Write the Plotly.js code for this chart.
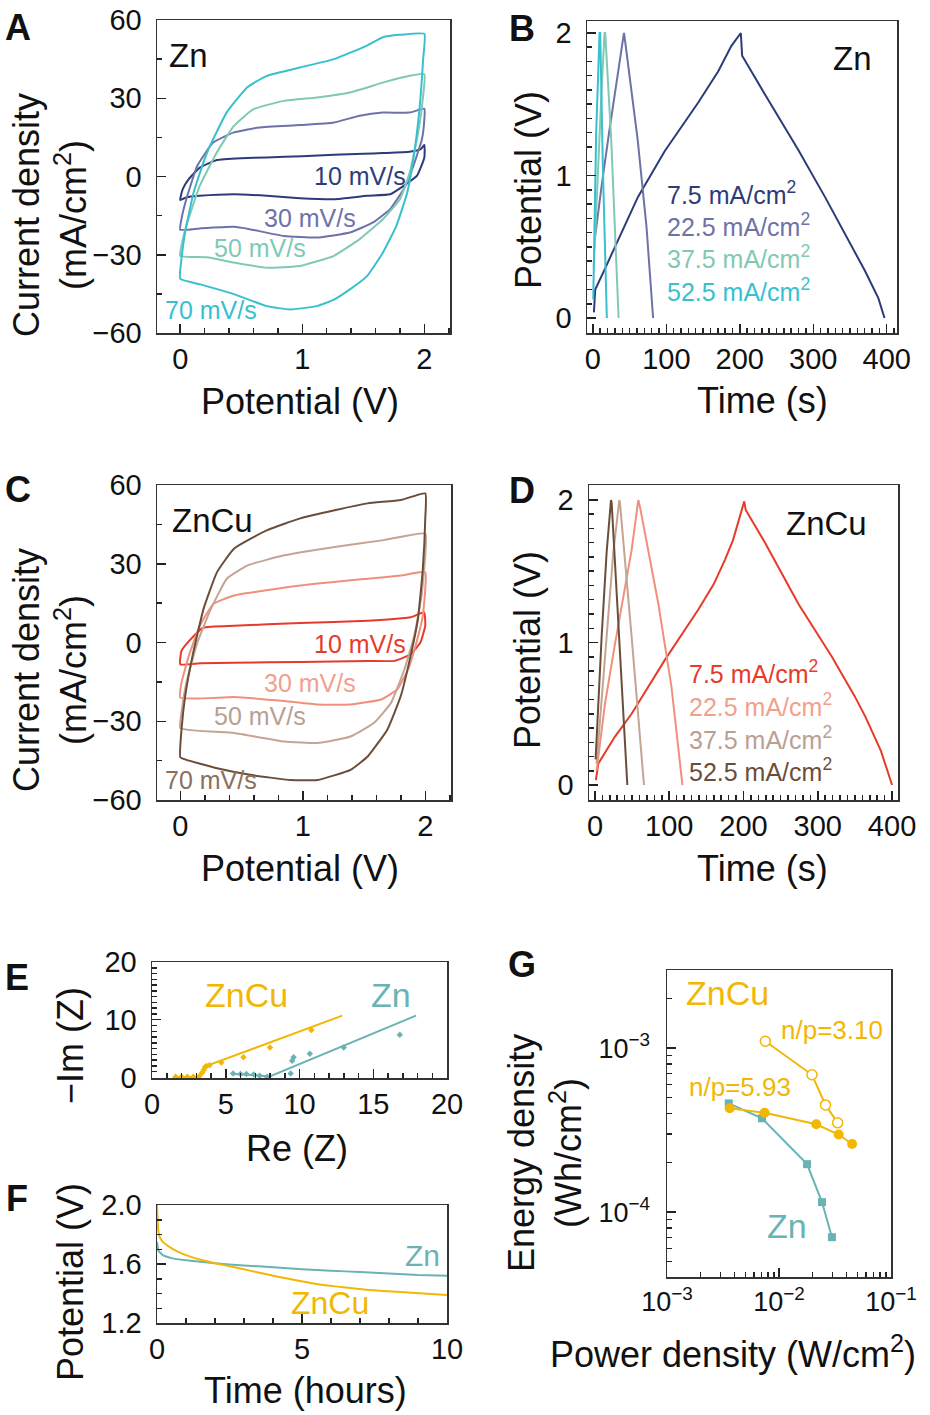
<!DOCTYPE html>
<html><head><meta charset="utf-8">
<script src="https://cdn.plot.ly/plotly-3.0.1.min.js"></script>
<style>html,body{margin:0;padding:0;background:#fff;} #chart{width:930px;height:1415px;}</style>
</head><body><div id="chart"></div>
<script>
// ---------- Panel A: CV, Zn ----------
const cvZnV10 = [0, 0.02, 0.07, 0.16, 0.3, 0.5, 0.71, 1.0, 1.26, 1.5, 1.66, 1.88, 1.97, 2.0, 2.0, 1.94, 1.83, 1.72, 1.53, 1.26, 0.98, 0.71, 0.44, 0.16, 0.05, 0];
const cvZnI10 = [-9, -4.9, -1, 3.4, 6.3, 7, 7.3, 7.8, 8.3, 8.7, 9, 9.5, 10.5, 12.1, 7.3, 0.3, -3.6, -6.8, -7.4, -8.7, -8.3, -7.4, -6.8, -7.4, -8, -9];
const cvZnV30 = [0, 0.01, 0.05, 0.14, 0.27, 0.44, 0.65, 0.98, 1.26, 1.47, 1.66, 1.88, 2.0, 2.0, 1.98, 1.91, 1.83, 1.72, 1.58, 1.39, 1.12, 0.85, 0.57, 0.44, 0.16, 0];
const cvZnI30 = [-20.4, -16.4, -8.7, 4.1, 13, 16.9, 18.8, 19.7, 20.7, 23.3, 24.5, 24.5, 26, 22, 14.3, 4.1, -4.9, -12.5, -17.6, -21.5, -23.4, -22.8, -20.2, -19.3, -19.9, -20.4];
const cvZnV50 = [0, 0.01, 0.05, 0.16, 0.3, 0.44, 0.6, 0.85, 1.12, 1.39, 1.66, 1.88, 2.0, 1.99, 1.95, 1.88, 1.8, 1.66, 1.47, 1.26, 0.98, 0.71, 0.44, 0.22, 0];
const cvZnI50 = [-30.4, -26.6, -18.9, -3.6, 9.2, 19.4, 25.8, 29, 30.3, 32.2, 36, 38.6, 39.2, 30.9, 16.9, 1.5, -8.7, -16.4, -24, -30.4, -34.3, -35, -33, -31, -30.4];
const cvZnV70 = [0, 0.01, 0.04, 0.11, 0.22, 0.38, 0.55, 0.71, 0.98, 1.26, 1.53, 1.66, 1.8, 2.0, 1.99, 1.96, 1.91, 1.86, 1.77, 1.66, 1.53, 1.39, 1.26, 1.12, 0.9, 0.71, 0.44, 0.16, 0];
const cvZnI70 = [-39.2, -31.8, -21.5, -6.1, 9.2, 24.5, 34.2, 38.6, 41.8, 45, 50.2, 53.4, 54.3, 54.7, 45, 25.8, 6.7, -6.1, -19, -29.2, -38.2, -43.3, -47.2, -49.7, -51, -49.7, -45.1, -41.3, -39.2];

// ---------- Panel C: CV, ZnCu ----------
const cvCuV10 = [0, 0.01, 0.08, 0.19, 0.44, 0.98, 1.53, 1.88, 1.99, 2.0, 1.96, 1.88, 1.75, 1.53, 0.98, 0.44, 0.16, 0];
const cvCuI10 = [-8.3, -3.2, 1, 5.7, 6.4, 7.4, 8.3, 9.6, 11.5, 6.4, 0, -4.5, -7, -7, -7.4, -7.7, -7.9, -8.3];
const cvCuV30 = [0, 0.01, 0.07, 0.16, 0.27, 0.44, 0.98, 1.53, 1.8, 2.0, 2.0, 1.98, 1.92, 1.86, 1.77, 1.64, 1.39, 1.12, 0.85, 0.44, 0];
const cvCuI30 = [-21, -15.3, -5.1, 6.4, 14.7, 17.9, 21.7, 24.3, 25.5, 26.8, 20.4, 10.2, -1.3, -10.2, -17.9, -21.7, -23.6, -23.6, -22.3, -20.8, -21];
const cvCuV50 = [0, 0.01, 0.05, 0.14, 0.25, 0.38, 0.55, 0.85, 1.26, 1.66, 2.0, 2.0, 1.97, 1.91, 1.83, 1.72, 1.58, 1.39, 1.12, 0.85, 0.44, 0];
const cvCuI50 = [-32.6, -26.8, -15.3, 0, 12.8, 24.3, 29.4, 33.2, 36.4, 39, 41.5, 33.2, 17.9, 2.6, -10.2, -23, -30.7, -35.8, -38.3, -37.7, -34.5, -32.6];
const cvCuV70 = [0, 0.01, 0.04, 0.1, 0.19, 0.3, 0.44, 0.71, 0.98, 1.26, 1.53, 1.8, 2.0, 2.0, 1.98, 1.94, 1.88, 1.8, 1.69, 1.53, 1.39, 1.12, 0.9, 0.57, 0.3, 0.05, 0];
const cvCuI70 = [-43.7, -33.2, -20.4, -5.1, 12.8, 26.8, 35.8, 42.8, 47.3, 50.4, 53, 54.3, 56.8, 47.3, 28.1, 8.9, -5.1, -20.4, -33.2, -43.4, -48.5, -52.4, -52.4, -50.4, -47.9, -44.7, -43.7];

// ---------- Panel B: GCD, Zn ----------
const gcdZnT75 = [1.4, 3.2, 15.9, 38.6, 61.4, 97.7, 143.2, 170.5, 188.6, 201.4, 203.2, 234.1, 279.5, 315.9, 347.7, 370.5, 388.6, 397];
const gcdZnV75 = [0.04, 0.2, 0.34, 0.6, 0.85, 1.17, 1.51, 1.73, 1.91, 2.0, 1.84, 1.57, 1.18, 0.85, 0.55, 0.33, 0.14, 0];
const gcdZnT225 = [2.5, 5, 12, 22, 32, 42.3, 43.2, 61, 73, 82];
const gcdZnV225 = [0.55, 0.66, 0.93, 1.3, 1.65, 2.0, 1.97, 1.25, 0.64, 0];
const gcdZnT375 = [1.2, 6.8, 12.3, 15.9, 16.8, 25, 35];
const gcdZnV375 = [0.36, 1.06, 1.65, 2.0, 2.0, 1.25, 0];
const gcdZnT525 = [0.5, 4.5, 9.1, 10, 13.6, 19];
const gcdZnV525 = [0.13, 1.3, 2.0, 2.0, 1.06, 0];

// ---------- Panel D: GCD, ZnCu ----------
const gcdCuT75 = [1.3, 4.5, 27, 49.4, 94.4, 139, 160, 175, 186, 193, 201, 203, 229, 274, 319, 350, 364, 385, 400];
const gcdCuV75 = [0.035, 0.15, 0.34, 0.5, 0.88, 1.23, 1.41, 1.58, 1.72, 1.84, 1.99, 1.93, 1.7, 1.27, 0.9, 0.62, 0.48, 0.24, 0];
const gcdCuT225 = [2.2, 13.5, 27, 40.4, 49.4, 58.4, 60.7, 85.4, 103, 117.8];
const gcdCuV225 = [0.1, 0.57, 0.99, 1.39, 1.65, 2.0, 1.95, 1.27, 0.69, 0];
const gcdCuT375 = [2.2, 13.5, 24.7, 32.8, 33.7, 49.4, 66];
const gcdCuV375 = [0.15, 0.92, 1.63, 2.0, 1.98, 1.04, 0];
const gcdCuT525 = [0.9, 9, 15.7, 21.6, 22.5, 32.4, 43.6];
const gcdCuV525 = [0.18, 1.04, 1.63, 2.0, 1.98, 1.04, 0];

// ---------- Panel E: Nyquist ----------
const eisCuRe = [1.6, 2.0, 2.4, 2.8, 3.2, 3.4, 3.5, 3.6, 3.7, 3.9, 4.7, 6.2, 8.0, 10.8];
const eisCuIm = [0.1, 0.1, 0.1, 0.1, 0.2, 0.8, 1.3, 1.8, 2.0, 2.1, 2.6, 3.5, 5.2, 8.2];
const eisCuFitRe = [1.4, 3.2, 3.5, 3.7, 12.9];
const eisCuFitIm = [0, 0.1, 1.2, 2.0, 10.7];
const eisZnRe = [5.5, 6.0, 6.4, 6.9, 7.3, 7.8, 9.4, 9.5, 9.6, 10.7, 13.0, 16.8];
const eisZnIm = [0.7, 0.6, 0.6, 0.5, 0.3, 0.1, 0.7, 2.9, 3.5, 4.1, 5.2, 7.4];
const eisZnFitRe = [5.5, 6.5, 7.5, 7.9, 17.9];
const eisZnFitIm = [0.6, 0.5, 0.3, 0.1, 10.7];

// ---------- Panel F: self-discharge ----------
const sdZnT = [0, 0.05, 0.2, 0.5, 1, 2, 3, 4, 5, 6, 7, 8, 9, 10];
const sdZnV = [1.75, 1.69, 1.66, 1.64, 1.625, 1.605, 1.59, 1.578, 1.565, 1.555, 1.545, 1.535, 1.525, 1.52];
const sdCuT = [0, 0.02, 0.05, 0.1, 0.2, 0.4, 0.7, 1.0, 1.47, 2.0, 2.63, 3.2, 3.78, 4.4, 4.93, 5.5, 6.08, 7.23, 8.39, 10];
const sdCuV = [2.0, 1.9, 1.82, 1.78, 1.75, 1.72, 1.685, 1.66, 1.63, 1.605, 1.58, 1.555, 1.53, 1.505, 1.485, 1.465, 1.45, 1.425, 1.41, 1.39];

// ---------- Panel G: Ragone ----------
const rgCu310P = [0.00755, 0.0197, 0.026, 0.0334];
const rgCu310E = [1.1e-3, 6.87e-4, 4.5e-4, 3.5e-4];
const rgCu593P = [0.00363, 0.00744, 0.0215, 0.0341, 0.0449];
const rgCu593E = [4.3e-4, 4.03e-4, 3.43e-4, 2.97e-4, 2.6e-4];
const rgZnP = [0.00356, 0.00705, 0.0178, 0.0242, 0.0297];
const rgZnE = [4.6e-4, 3.73e-4, 1.96e-4, 1.15e-4, 7.03e-5];

// tick labels
const ticksLogX = [1e-3, 1e-2, 1e-1];
const ticksLogXText = ['10<sup>−3</sup>', '10<sup>−2</sup>', '10<sup>−1</sup>'];
const ticksLogY = [1e-4, 1e-3];
const ticksLogYText = ['10<sup>−4</sup>', '10<sup>−3</sup>'];
const minorLogX = [2e-3,3e-3,4e-3,5e-3,6e-3,7e-3,8e-3,9e-3,2e-2,3e-2,4e-2,5e-2,6e-2,7e-2,8e-2,9e-2];
const minorLogY = [5e-5,6e-5,7e-5,8e-5,9e-5,2e-4,3e-4,4e-4,5e-4,6e-4,7e-4,8e-4,9e-4,2e-3,3e-3];

// ---------- styling ----------
const W = 930, H = 1415;
const FONT = 'Liberation Sans, Arial, Helvetica, sans-serif';
const TXT = '#111';
const cZn = ['#2c3c7a', '#6e72a8', '#80c9b4', '#38c0cf'];
const cCu = ['#e63b2a', '#f0907c', '#c4a594', '#6b4e3a'];
const YEL = '#f2b705', TEAL = '#6ab3b5';
const dx = (a, b) => [a / W, b / W];
const dy = (top, bot) => [1 - bot / H, 1 - top / H];
const px = x => x / W, py = y => 1 - y / H;
const MINOR = {ticks: 'inside', ticklen: 5, tickwidth: 1.5, tickcolor: '#222'};

function ax(extra, isX) {
  const base = {
    showline: true, mirror: true, linecolor: '#333', linewidth: 1.5,
    ticks: 'inside', ticklen: 9, tickwidth: 1.5, tickcolor: '#222',
    showgrid: false, zeroline: false, ticklabelstandoff: isX ? 0 : 8,
    tickfont: {size: 29, color: TXT, family: FONT}
  };
  const out = Object.assign(base, extra);
  out.minor = Object.assign({}, MINOR, extra.minor || {});
  return out;
}

const traces = [];
function line(x, y, color, xa, ya, w) {
  traces.push({type: 'scatter', mode: 'lines', x: x, y: y, xaxis: xa, yaxis: ya,
    line: {color: color, width: w || 2, shape: 'spline', smoothing: 0.4}, showlegend: false, hoverinfo: 'skip'});
}
function lineS(x, y, color, xa, ya) {
  traces.push({type: 'scatter', mode: 'lines', x: x, y: y, xaxis: xa, yaxis: ya,
    line: {color: color, width: 2}, showlegend: false, hoverinfo: 'skip'});
}
// A
line(cvZnV10, cvZnI10, cZn[0], 'x', 'y');
line(cvZnV30, cvZnI30, cZn[1], 'x', 'y');
line(cvZnV50, cvZnI50, cZn[2], 'x', 'y');
line(cvZnV70, cvZnI70, cZn[3], 'x', 'y');
// B
lineS(gcdZnT75, gcdZnV75, cZn[0], 'x2', 'y2');
lineS(gcdZnT225, gcdZnV225, cZn[1], 'x2', 'y2');
lineS(gcdZnT375, gcdZnV375, cZn[2], 'x2', 'y2');
lineS(gcdZnT525, gcdZnV525, cZn[3], 'x2', 'y2');
// C
line(cvCuV10, cvCuI10, cCu[0], 'x3', 'y3');
line(cvCuV30, cvCuI30, cCu[1], 'x3', 'y3');
line(cvCuV50, cvCuI50, cCu[2], 'x3', 'y3');
line(cvCuV70, cvCuI70, cCu[3], 'x3', 'y3');
// D
lineS(gcdCuT75, gcdCuV75, cCu[0], 'x4', 'y4');
lineS(gcdCuT225, gcdCuV225, cCu[1], 'x4', 'y4');
lineS(gcdCuT375, gcdCuV375, cCu[2], 'x4', 'y4');
lineS(gcdCuT525, gcdCuV525, cCu[3], 'x4', 'y4');
// E
lineS(eisCuFitRe, eisCuFitIm, YEL, 'x5', 'y5');
lineS(eisZnFitRe, eisZnFitIm, TEAL, 'x5', 'y5');
traces.push({type: 'scatter', mode: 'markers', x: eisCuRe, y: eisCuIm, xaxis: 'x5', yaxis: 'y5',
  marker: {color: YEL, size: 5, symbol: 'diamond'}, showlegend: false});
traces.push({type: 'scatter', mode: 'markers', x: eisZnRe, y: eisZnIm, xaxis: 'x5', yaxis: 'y5',
  marker: {color: TEAL, size: 5, symbol: 'diamond'}, showlegend: false});
// F
line(sdZnT, sdZnV, TEAL, 'x6', 'y6');
line(sdCuT, sdCuV, YEL, 'x6', 'y6');
// G
traces.push({type: 'scatter', mode: 'lines+markers', x: rgZnP, y: rgZnE, xaxis: 'x7', yaxis: 'y7',
  line: {color: TEAL, width: 2}, marker: {color: TEAL, size: 8, symbol: 'square'}, showlegend: false});
traces.push({type: 'scatter', mode: 'lines+markers', x: rgCu593P, y: rgCu593E, xaxis: 'x7', yaxis: 'y7',
  line: {color: YEL, width: 2}, marker: {color: YEL, size: 10, symbol: 'circle'}, showlegend: false});
traces.push({type: 'scatter', mode: 'lines+markers', x: rgCu310P, y: rgCu310E, xaxis: 'x7', yaxis: 'y7',
  line: {color: YEL, width: 2}, marker: {color: '#fff', size: 10, symbol: 'circle', line: {color: YEL, width: 1.5}}, showlegend: false});

const ann = [];
function txt(text, x, y, xref, yref, size, color, opts) {
  ann.push(Object.assign({text: text, x: x, y: y, xref: xref, yref: yref, showarrow: false,
    font: {size: size, color: color, family: FONT}, xanchor: 'center', yanchor: 'middle'}, opts || {}));
}
// panel letters
[['A', 18, 27], ['B', 522, 28], ['C', 18, 489], ['D', 522, 490], ['E', 17, 977], ['F', 17, 1198], ['G', 522, 964]]
  .forEach(p => txt('<b>' + p[0] + '</b>', px(p[1]), py(p[2]), 'paper', 'paper', 36, TXT));
// axis titles
const cdTitle = 'Current density<br>(mA/cm<sup>2</sup>)';
txt(cdTitle, px(50), py(215), 'paper', 'paper', 36, TXT, {textangle: -90});
txt('Potential (V)', px(300), py(402), 'paper', 'paper', 36, TXT);
txt('Potential (V)', px(528), py(190), 'paper', 'paper', 36, TXT, {textangle: -90});
txt('Time (s)', px(762), py(400), 'paper', 'paper', 36, TXT);
txt(cdTitle, px(50), py(670), 'paper', 'paper', 36, TXT, {textangle: -90});
txt('Potential (V)', px(300), py(868), 'paper', 'paper', 36, TXT);
txt('Potential (V)', px(528), py(650), 'paper', 'paper', 36, TXT, {textangle: -90});
txt('Time (s)', px(762), py(868), 'paper', 'paper', 36, TXT);
txt('−Im (Z)', px(70), py(1046), 'paper', 'paper', 36, TXT, {textangle: -90});
txt('Re (Z)', px(297), py(1148), 'paper', 'paper', 36, TXT);
txt('Potential (V)', px(70), py(1282), 'paper', 'paper', 36, TXT, {textangle: -90});
txt('Time (hours)', px(305), py(1390), 'paper', 'paper', 36, TXT);
txt('Energy density<br>(Wh/cm<sup>2</sup>)', px(545), py(1153), 'paper', 'paper', 36, TXT, {textangle: -90});
txt('Power density (W/cm<sup>2</sup>)', px(733), py(1352), 'paper', 'paper', 36, TXT);
// in-plot labels A
txt('Zn', 0.07, 46.4, 'x', 'y', 33, TXT);
txt('10 mV/s', 1.47, 0.2, 'x', 'y', 25, cZn[0]);
txt('30 mV/s', 1.06, -15.8, 'x', 'y', 25, cZn[1]);
txt('50 mV/s', 0.65, -27.3, 'x', 'y', 25, cZn[2]);
txt('70 mV/s', 0.25, -51, 'x', 'y', 25, cZn[3]);
// B
txt('Zn', 354, 1.82, 'x2', 'y2', 33, TXT);
txt('7.5 mA/cm<sup>2</sup>', 97.7, 0.877, 'x2', 'y2', 25, cZn[0], {xanchor: 'left'});
txt('22.5 mA/cm<sup>2</sup>', 97.7, 0.655, 'x2', 'y2', 25, cZn[1], {xanchor: 'left'});
txt('37.5 mA/cm<sup>2</sup>', 97.7, 0.428, 'x2', 'y2', 25, cZn[2], {xanchor: 'left'});
txt('52.5 mA/cm<sup>2</sup>', 97.7, 0.2, 'x2', 'y2', 25, cZn[3], {xanchor: 'left'});
// C
txt('ZnCu', 0.26, 46.6, 'x3', 'y3', 33, TXT);
txt('10 mV/s', 1.47, -0.6, 'x3', 'y3', 25, cCu[0]);
txt('30 mV/s', 1.06, -15.3, 'x3', 'y3', 25, '#f2a08e');
txt('50 mV/s', 0.65, -28, 'x3', 'y3', 25, '#b9a092');
txt('70 mV/s', 0.25, -52.4, 'x3', 'y3', 25, '#8b6f5c');
// D
txt('ZnCu', 312, 1.836, 'x4', 'y4', 33, TXT);
txt('7.5 mA/cm<sup>2</sup>', 123.6, 0.795, 'x4', 'y4', 25, cCu[0], {xanchor: 'left'});
txt('22.5 mA/cm<sup>2</sup>', 123.6, 0.56, 'x4', 'y4', 25, '#f2a08e', {xanchor: 'left'});
txt('37.5 mA/cm<sup>2</sup>', 123.6, 0.327, 'x4', 'y4', 25, '#b9a092', {xanchor: 'left'});
txt('52.5 mA/cm<sup>2</sup>', 123.6, 0.105, 'x4', 'y4', 25, cCu[3], {xanchor: 'left'});
// E
txt('ZnCu', 6.4, 14.2, 'x5', 'y5', 34, YEL);
txt('Zn', 16.2, 14.2, 'x5', 'y5', 34, TEAL);
// F
txt('Zn', 9.14, 1.66, 'x6', 'y6', 30, TEAL);
txt('ZnCu', 5.97, 1.335, 'x6', 'y6', 32, YEL);
// G (log axes: annotation coords are log10)
txt('ZnCu', -2.464, -2.663, 'x7', 'y7', 34, YEL);
txt('n/p=3.10', -1.527, -2.888, 'x7', 'y7', 26, YEL);
txt('n/p=5.93', -2.345, -3.235, 'x7', 'y7', 26, YEL);
txt('Zn', -1.929, -4.082, 'x7', 'y7', 34, TEAL);

const gFont = {size: 27, color: TXT, family: FONT};
const layout = {
  width: W, height: H, margin: {l: 0, r: 0, t: 0, b: 0},
  paper_bgcolor: '#fff', plot_bgcolor: '#fff', showlegend: false,
  font: {family: FONT, color: TXT},
  xaxis:  ax({domain: dx(157, 450), anchor: 'y',  range: [-0.19, 2.21], dtick: 1, tick0: 0, minor: {dtick: 0.2}}, true),
  yaxis:  ax({domain: dy(20, 333),  anchor: 'x',  range: [-60, 60], dtick: 30, minor: {dtick: 15}}),
  xaxis2: ax({domain: dx(587, 897), anchor: 'y2', range: [-8, 414], dtick: 100, minor: {dtick: 10}}, true),
  yaxis2: ax({domain: dy(21, 333),  anchor: 'x2', range: [-0.105, 2.084], dtick: 1, minor: {dtick: 0.1}}),
  xaxis3: ax({domain: dx(157, 451), anchor: 'y3', range: [-0.19, 2.21], dtick: 1, tick0: 0, minor: {dtick: 0.2}}, true),
  yaxis3: ax({domain: dy(485, 800), anchor: 'x3', range: [-60, 60], dtick: 30, minor: {dtick: 15}}),
  xaxis4: ax({domain: dx(589, 898), anchor: 'y4', range: [-8, 408], dtick: 100, minor: {dtick: 10}}, true),
  yaxis4: ax({domain: dy(485, 800), anchor: 'x4', range: [-0.105, 2.105], dtick: 1, minor: {dtick: 0.1}}),
  xaxis5: ax({domain: dx(152, 447), anchor: 'y5', range: [0, 20], dtick: 5, minor: {dtick: 1}}, true),
  yaxis5: ax({domain: dy(962, 1078), anchor: 'x5', range: [-0.1, 20], dtick: 10, minor: {dtick: 1}}),
  xaxis6: ax({domain: dx(157, 447), anchor: 'y6', range: [0, 10], dtick: 5, minor: {dtick: 1}}, true),
  yaxis6: ax({domain: dy(1205, 1323), anchor: 'x6', range: [1.2, 2.0], dtick: 0.4, tickformat: '.1f', minor: {dtick: 0.1}}),
  xaxis7: ax({domain: dx(667, 891), anchor: 'y7', type: 'log', range: [-3, -1], tickmode: 'array', tickvals: ticksLogX, ticktext: ticksLogXText,
    tickfont: gFont, minor: {tickmode: 'array', tickvals: minorLogX}}, true),
  yaxis7: ax({domain: dy(970, 1277), anchor: 'x7', type: 'log', range: [-4.396, -2.524], tickmode: 'array', tickvals: ticksLogY, ticktext: ticksLogYText,
    tickfont: gFont, ticklabelstandoff: 10, minor: {tickmode: 'array', tickvals: minorLogY}}),
  annotations: ann
};

Plotly.newPlot('chart', traces, layout, {displayModeBar: false, staticPlot: true});
</script></body></html>
